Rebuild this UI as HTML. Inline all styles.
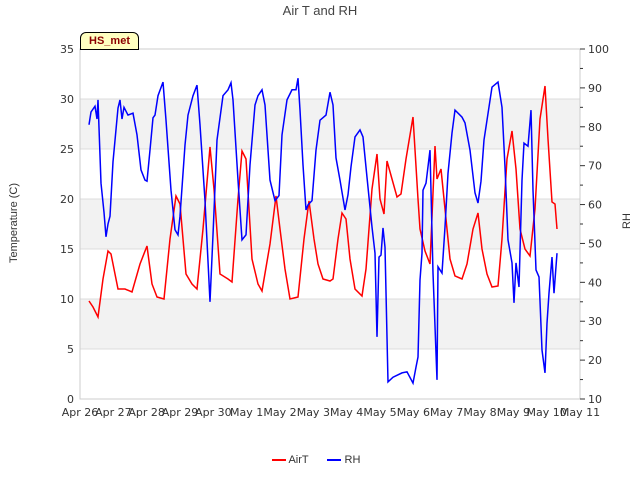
<!DOCTYPE html>
<html><head><meta charset="utf-8"><style>
body{margin:0;background:#fff;font-family:"Liberation Sans","DejaVu Sans",sans-serif}
text{font-family:"DejaVu Sans","Liberation Sans",sans-serif}
</style></head><body>
<svg id="c" width="640" height="480" xmlns="http://www.w3.org/2000/svg"></svg>
<script>
const xLabels=["Apr 26","Apr 27","Apr 28","Apr 29","Apr 30","May 1","May 2","May 3","May 4","May 5","May 6","May 7","May 8","May 9","May 10","May 11"];
const tTicks=[0,5,10,15,20,25,30,35];
const rhTicks=[10,20,30,40,50,60,70,80,90,100];
const tDays=[.27,.39,.54,.69,.84,.93,1.14,1.35,1.56,1.80,2.01,2.16,2.31,2.52,2.70,2.88,3.00,3.18,3.36,3.51,3.69,3.90,4.02,4.20,4.44,4.56,4.74,4.86,4.98,5.16,5.34,5.46,5.70,5.88,6.00,6.15,6.30,6.54,6.72,6.87,7.02,7.14,7.29,7.50,7.59,7.74,7.86,7.98,8.10,8.25,8.46,8.58,8.76,8.91,9.00,9.12,9.21,9.36,9.51,9.63,9.78,9.99,10.14,10.20,10.35,10.50,10.65,10.71,10.83,10.95,11.10,11.25,11.46,11.61,11.79,11.94,12.06,12.21,12.36,12.54,12.66,12.81,12.96,13.08,13.20,13.35,13.50,13.65,13.80,13.95,14.04,14.16,14.25,14.31];
const tVals=[9.8,9.2,8.2,12,14.8,14.5,11,11,10.7,13.5,15.3,11.5,10.2,10,16,20.3,19.5,12.5,11.5,11,17,25.2,21,12.5,12,11.7,20,24.8,24,14,11.5,10.8,15.5,20.3,17,13,10,10.2,16,19.8,16,13.5,12,11.8,12,16,18.6,18,14,11,10.3,13,21,24.5,20,18.5,23.8,22,20.2,20.5,24,28.2,20,17,14.8,13.5,25.3,22,23,19,14,12.3,12,13.5,17,18.6,15,12.5,11.2,11.3,16,24,26.8,23,17,15,14.3,19,28,31.3,26,19.7,19.5,17];
const rhDays=[.27,.33,.45,.51,.54,.63,.72,.78,.84,.90,.99,1.14,1.20,1.26,1.32,1.44,1.59,1.71,1.83,1.95,2.01,2.10,2.19,2.25,2.34,2.49,2.58,2.73,2.85,2.94,3.00,3.15,3.24,3.39,3.51,3.60,3.75,3.90,3.99,4.11,4.29,4.44,4.53,4.59,4.74,4.86,4.98,5.10,5.25,5.34,5.46,5.55,5.70,5.85,5.97,6.06,6.21,6.36,6.48,6.54,6.60,6.69,6.78,6.84,6.96,7.08,7.20,7.38,7.50,7.59,7.68,7.80,7.95,8.04,8.13,8.25,8.40,8.49,8.61,8.76,8.85,8.91,8.97,9.03,9.09,9.15,9.24,9.39,9.66,9.81,9.99,10.08,10.14,10.20,10.26,10.29,10.38,10.50,10.59,10.71,10.74,10.86,10.95,11.04,11.16,11.25,11.46,11.55,11.70,11.85,11.94,12.03,12.12,12.21,12.36,12.54,12.66,12.75,12.84,12.96,13.02,13.08,13.17,13.26,13.32,13.44,13.53,13.59,13.68,13.77,13.86,13.95,14.01,14.07,14.16,14.22,14.31];
const rhVals=[80.5,83.8,85.3,82,86.9,65.5,58,51.7,55,57,71,84.8,86.9,82,85,83,83.5,77.9,68.9,66.3,66,74,82.3,83,88,91.5,81.7,63.7,53.5,52.2,57,75.3,83,88,90.7,80.5,61,35,52.2,76.6,88,89.5,91.3,86.9,66.3,50.9,52.2,70.2,85.6,88,89.5,85.6,66.3,61,62.3,77.9,86.9,89.5,89.5,92.5,84.3,70.2,58.6,59.9,61,74,81.7,83,88.9,85.6,72,66.3,58.6,62.5,69.7,77.4,79.2,77.4,67,54.2,47.5,26,46.5,47,54,49,14.4,15.6,16.7,17,14.1,18.2,20.8,40.6,47.5,63.7,65.5,74,42.4,14.9,44,42.4,54.2,68,78.4,84.3,82.5,81,74,63,60.4,66,76.6,81.7,90.2,91.5,85,69.7,50.9,45,34.7,45,38.8,66.3,75.8,75,84.3,63.7,43.2,41.4,22.6,16.7,29.5,37.2,46.5,37.2,47.5];

const L=80,R=580,T=49,B=399;
const xs=d=>L+d*(R-L)/15;
const yT=v=>B-v*(B-T)/35;
const yR=v=>B-(v-10)*(B-T)/90;
const svg=document.getElementById('c');
const NS='http://www.w3.org/2000/svg';
function mk(tag,at,txt){const e=document.createElementNS(NS,tag);for(const k in at)e.setAttribute(k,at[k]);if(txt!=null)e.textContent=txt;svg.appendChild(e);return e;}
// bands
for(let i=0;i<tTicks.length-1;i++){if(i%2==1){const e=mk('rect',{x:L,y:yT(tTicks[i+1]),width:R-L,height:yT(tTicks[i])-yT(tTicks[i+1]),fill:'#f2f2f2'});

}}
tTicks.forEach(v=>{const g=mk('line',{x1:L,x2:R,y1:yT(v),y2:yT(v),stroke:'#dcdcdc','stroke-width':1});


const t=mk('text',{x:L-6,y:yT(v)+4,'text-anchor':'end','font-size':11,fill:'#333'},v);

});
const fr=mk('rect',{x:L,y:T,width:R-L,height:B-T,fill:'none',stroke:'#ccc'});


rhTicks.forEach((v,i)=>{mk('line',{x1:R,x2:R+5,y1:yR(v),y2:yR(v),stroke:'#333'});
if(i<rhTicks.length-1)mk('line',{x1:R,x2:R+3,y1:yR(v+5),y2:yR(v+5),stroke:'#333'});
const t=mk('text',{x:R+8,y:yR(v)+4,'font-size':11,fill:'#333'},v);

});
xLabels.forEach((s,i)=>{const t=mk('text',{x:xs(i),y:B+17,'text-anchor':'middle','font-size':11,fill:'#333'},s);

});
function line(days,vals,f,col,name){const p=mk('polyline',{points:days.map((d,i)=>xs(d).toFixed(1)+','+f(vals[i]).toFixed(1)).join(' '),fill:'none',stroke:col,'stroke-width':1.5});

}
line(tDays,tVals,yT,'#ff0000','airt-line');
line(rhDays,rhVals,yR,'#0000ff','rh-line');
</script>
<div style="position:absolute;left:0;top:0;width:640px;height:480px;pointer-events:none">
<div style="position:absolute;top:3px;width:640px;text-align:center;font-size:13px;color:#444">Air T and RH</div>
<div style="position:absolute;left:80px;top:32px;width:57px;height:16px;background:#ffffc0;border:1px solid #000;border-radius:6px 6px 0 0;font-size:11px;font-weight:bold;color:#8b0000;text-align:center;line-height:17px">HS_met</div>
<div style="position:absolute;left:-36px;top:217px;width:100px;text-align:center;transform:rotate(-90deg);font-size:11px;color:#333">Temperature (C)</div>
<div style="position:absolute;left:577px;top:215px;width:100px;text-align:center;transform:rotate(-90deg);font-size:11px;color:#333">RH</div>
<div style="position:absolute;top:454px;left:272px;font-size:11px;color:#333;white-space:nowrap">
<span><span style="display:inline-block;width:14px;border-top:2px solid #f00;vertical-align:middle"></span> AirT</span>
<span style="margin-left:16px"><span style="display:inline-block;width:14px;border-top:2px solid #00f;vertical-align:middle"></span> RH</span>
</div></div>
</body></html>
